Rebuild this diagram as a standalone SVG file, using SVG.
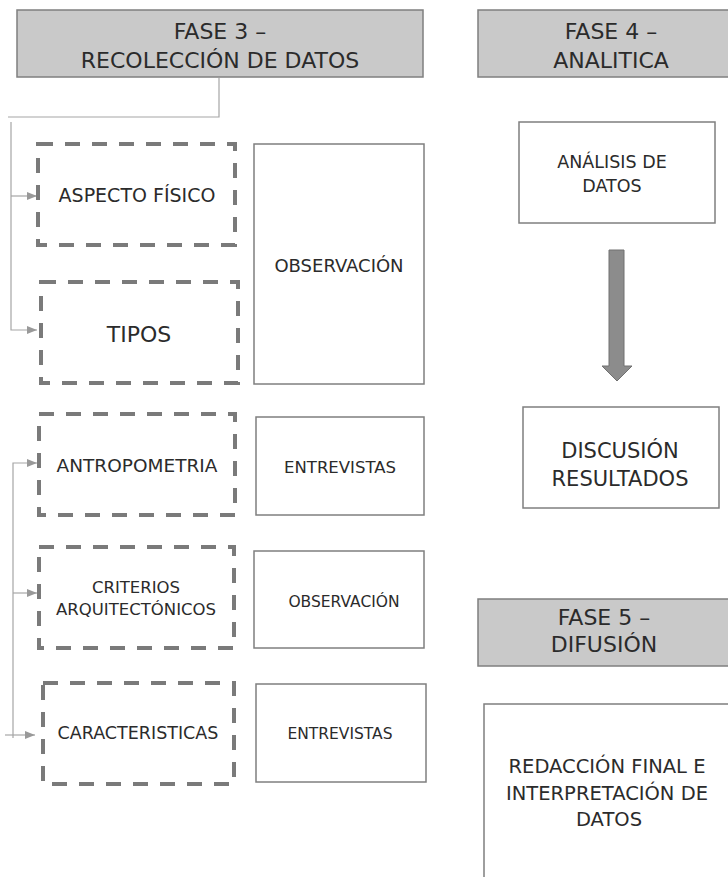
<svg xmlns="http://www.w3.org/2000/svg" width="728" height="877" viewBox="0 0 728 877">
<defs>
<style>
text{font-family:"DejaVu Sans","Liberation Sans",sans-serif;fill:#2b2b2b;text-anchor:middle}
.hdr{fill:#c9c9c9;stroke:#7f7f7f;stroke-width:1.5}
.box{fill:#fff;stroke:#7f7f7f;stroke-width:1.5}
.dash{fill:none;stroke:#7a7a7a;stroke-width:4;stroke-dasharray:15 12}
.con{fill:none;stroke:#a6a6a6;stroke-width:1.2}
</style>
<marker id="ah" markerUnits="userSpaceOnUse" markerWidth="10" markerHeight="10" viewBox="0 0 10 10" refX="10" refY="5" orient="auto">
<path d="M0,1 L10,5 L0,9 Z" fill="#999"/>
</marker>
</defs>
<rect width="728" height="877" fill="#fff"/>

<g id="connectors">
<path class="con" d="M219,78 V117 H8"/>
<path class="con" d="M11,122 V330 H37" marker-end="url(#ah)"/>
<path class="con" d="M11,196 H37" marker-end="url(#ah)"/>
<path class="con" d="M13,738 V463 H37" marker-end="url(#ah)"/>
<path class="con" d="M13,593 H37" marker-end="url(#ah)"/>
<path class="con" d="M5,735 H35" marker-end="url(#ah)"/>
<polygon points="609,250 624,250 624,366 632,366 617,381 602,366 609,366" fill="#8c8c8c" stroke="#707070" stroke-width="1"/>
</g>

<g id="fase3">
<rect class="hdr" x="17" y="10" width="406" height="67"/>
<text x="220" y="39" font-size="22">FASE 3 –</text>
<text x="220" y="68" font-size="22">RECOLECCIÓN DE DATOS</text>
</g>

<g id="aspecto">
<rect class="dash" x="38" y="144" width="197" height="101"/>
<text x="137" y="202" font-size="19">ASPECTO FÍSICO</text>
</g>
<g id="tipos">
<rect class="dash" x="41" y="282" width="197" height="101"/>
<text x="139" y="342" font-size="22">TIPOS</text>
</g>
<g id="antropometria">
<rect class="dash" x="39" y="414" width="196" height="101"/>
<text x="137" y="472" font-size="18.5">ANTROPOMETRIA</text>
</g>
<g id="criterios">
<rect class="dash" x="39" y="547" width="195" height="101"/>
<text x="136" y="593" font-size="16.5">CRITERIOS</text>
<text x="136" y="615" font-size="16.5">ARQUITECTÓNICOS</text>
</g>
<g id="caracteristicas">
<rect class="dash" x="43" y="683" width="191" height="101"/>
<text x="138" y="739" font-size="17.5">CARACTERISTICAS</text>
</g>

<g id="observacion1">
<rect class="box" x="254" y="144" width="170" height="240"/>
<text x="339" y="272" font-size="18">OBSERVACIÓN</text>
</g>
<g id="entrevistas1">
<rect class="box" x="256" y="417" width="168" height="98"/>
<text x="340" y="473" font-size="16.5">ENTREVISTAS</text>
</g>
<g id="observacion2">
<rect class="box" x="254" y="551" width="170" height="97"/>
<text x="344" y="607" font-size="15.5">OBSERVACIÓN</text>
</g>
<g id="entrevistas2">
<rect class="box" x="256" y="684" width="170" height="98"/>
<text x="340" y="739" font-size="15.5">ENTREVISTAS</text>
</g>

<g id="fase4">
<rect class="hdr" x="478" y="10" width="270" height="67"/>
<text x="611" y="39" font-size="22">FASE 4 –</text>
<text x="611" y="68" font-size="22">ANALITICA</text>
</g>
<g id="analisis">
<rect class="box" x="519" y="122" width="196" height="101"/>
<text x="612" y="168" font-size="17.5">ANÁLISIS DE</text>
<text x="612" y="192" font-size="17.5">DATOS</text>
</g>
<g id="discusion">
<rect class="box" x="523" y="407" width="196" height="101"/>
<text x="620" y="458" font-size="21">DISCUSIÓN</text>
<text x="620" y="486" font-size="21">RESULTADOS</text>
</g>
<g id="fase5">
<rect class="hdr" x="478" y="599" width="270" height="67"/>
<text x="604" y="625" font-size="22">FASE 5 –</text>
<text x="604" y="652" font-size="22">DIFUSIÓN</text>
</g>
<g id="redaccion">
<rect class="box" x="484" y="704" width="260" height="190"/>
<text x="607" y="773" font-size="19.5">REDACCIÓN FINAL E</text>
<text x="607" y="800" font-size="19.5">INTERPRETACIÓN DE</text>
<text x="609" y="826" font-size="19.5">DATOS</text>
</g>
</svg>
